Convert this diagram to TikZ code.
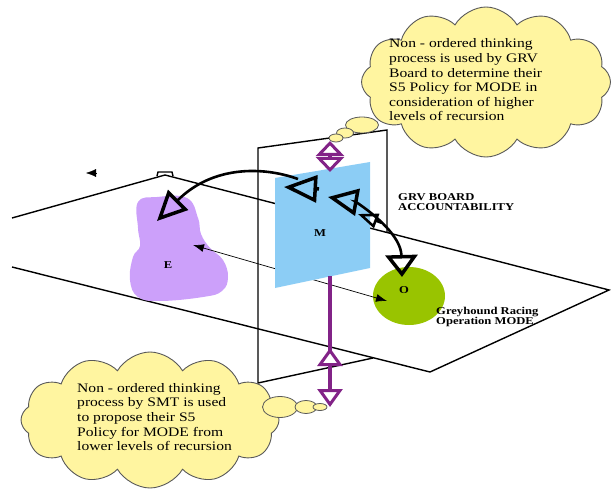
\documentclass[tikz,border=0pt]{standalone}
\usepackage{fontspec}
\setmainfont{Liberation Serif}
\newfontfamily\bubblefont[FakeStretch=1.2]{Liberation Serif}
\usetikzlibrary{arrows.meta}
\usetikzlibrary{shapes.symbols}
\usetikzlibrary{shapes.geometric}
\usetikzlibrary{decorations.markings}
\definecolor{cloudfill}{RGB}{255,245,160}
\definecolor{mblue}{RGB}{140,205,245}
\definecolor{elilac}{RGB}{204,160,250}
\definecolor{ogreen}{RGB}{153,196,0}
\definecolor{purp}{RGB}{130,35,135}
\tikzset{plane/.style={black, line width=1.4pt}}
\tikzset{thought/.style={cloud, cloud puffs=12, cloud puff arc=120, cloud ignores aspect, draw=black!65, fill=cloudfill, line width=0.9pt, inner sep=0pt}}
\tikzset{puff/.style={ellipse, draw=black!65, fill=cloudfill, line width=0.8pt, inner sep=0pt}}
\tikzset{thinking/.style={font=\bubblefont\fontsize{13}{14.6}\selectfont, align=left, inner sep=0pt}}
\tikzset{tag/.style={font=\bubblefont\bfseries\fontsize{10.5}{10.5}\selectfont, align=left, inner sep=0pt}}
\tikzset{bigarc/.style={black, line width=2.6pt}}
\tikzset{fat/.style={purp, line width=4pt}}

\begin{document}
\begin{tikzpicture}[x=1pt, y=-1pt]
  \useasboundingbox (0,0) rectangle (611,492);
  % the two planes
  \draw[plane] (12,218) -- (165,175) -- (609,290) -- (430,372) -- (12,267);
  \draw[plane] (157,176) -- (158,172) -- (172,172) -- (173,176);
  \draw[plane] (373,358) -- (258,383) -- (258,148) -- (387,130) -- (387,232);
  \coordinate (stray) at (86,173);
  \draw[-{Latex[length=10pt,width=8pt]}] (96,173) -- (stray);

  % E and O
  \fill[elilac] plot[smooth cycle, tension=0.7] coordinates {(138,202) (157,197) (187,198) (198,218) (201,234) (210,248) (223,260) (228,277) (222,291) (203,297) (160,301) (138,297) (130,280) (133,257) (140,246) (138,228)};
  \node[tag] (E) at (168,265) {E};
  \node[ellipse, fill=ogreen, minimum width=72pt, minimum height=58pt] (O) at (409,296) {};
  \node[tag] (Olab) at (404,290) {O};
  \coordinate (e1) at (193,245);
  \coordinate (o1) at (387,301);
  \draw[{Latex[length=11pt,width=8pt]}-{Latex[length=11pt,width=8pt]}, line width=0.7pt] (e1) -- (o1);

  % M
  \fill[mblue] (275,178) -- (370,162) -- (370,268) -- (275,288) -- cycle;
  \node[tag] (M) at (320,233) {M};

  % purple links
  \draw[fat, {Triangle[open,length=15pt,width=28pt,line width=3pt]}-{Triangle[open,length=15pt,width=28pt,line width=3pt]}] (330,141) -- (330,172);
  \draw[fat, {Triangle[open,length=18pt,width=25pt,line width=3pt]}-, postaction={decorate},
    decoration={markings, mark=at position 59pt with {\arrow{Triangle[fill=white,length=18pt,width=25pt,line width=3pt]}}}]
    (330,407) -- (330,276);

  % black arcs
  \coordinate (m1) at (319,189);
  \coordinate (m2) at (284,187);
  \draw[black, line width=3.5pt, -{Triangle[open,length=33pt,width=27pt]}] (m1) -- (m2);
  \draw[bigarc, -{Triangle[open,line width=3.5pt,length=30pt,width=28pt]}]
    (298,179) .. controls (262,166) and (212,166) .. (157,221);
  \draw[bigarc, {Triangle[open,line width=3.5pt,length=30pt,width=27pt]}-{Triangle[open,line width=3.5pt,length=22pt,width=32pt]}]
    (328,197) -- (356,202) .. controls (374,214) and (401,236) .. (402,277);
  \coordinate (mid1) at (382,223);
  \coordinate (mid2) at (358,214);
  \draw[black, line width=2.5pt, -{Triangle[open,length=20pt,width=15pt]}] (mid1) -- (mid2);

  % labels
  \node[tag, anchor=west] (grv) at (398,202) {GRV BOARD\\ACCOUNTABILITY};
  \node[tag, anchor=west] (mode) at (436,317) {Greyhound Racing\\Operation MODE};

  % thought bubbles
  \node[thought, minimum width=249pt, minimum height=150pt] (topcloud) at (486,82) {};
  \foreach \n/\x/\y/\w/\h in {1/362/125/33/16, 2/345/133/17/10, 3/336/138/14/8}{
    \node[puff, minimum width=\w pt, minimum height=\h pt] (toptail\n) at (\x,\y) {};
  }
  \node[thinking, anchor=west] (toptext) at (389,80) {Non - ordered thinking\\process is used by GRV\\Board to determine their\\S5 Policy for MODE in\\consideration of higher\\levels of recursion};

  \node[thought, minimum width=258pt, minimum height=136pt] (botcloud) at (150,420) {};
  \foreach \n/\x/\y/\w/\h in {1/280/407/35/21, 2/306/407/22/13, 3/320/407/14/7}{
    \node[puff, minimum width=\w pt, minimum height=\h pt] (bottail\n) at (\x,\y) {};
  }
  \node[thinking, anchor=west] (bottext) at (77,417) {Non - ordered thinking\\process by SMT is used\\to propose their S5\\Policy for MODE from\\lower levels of recursion};
\end{tikzpicture}
\end{document}
